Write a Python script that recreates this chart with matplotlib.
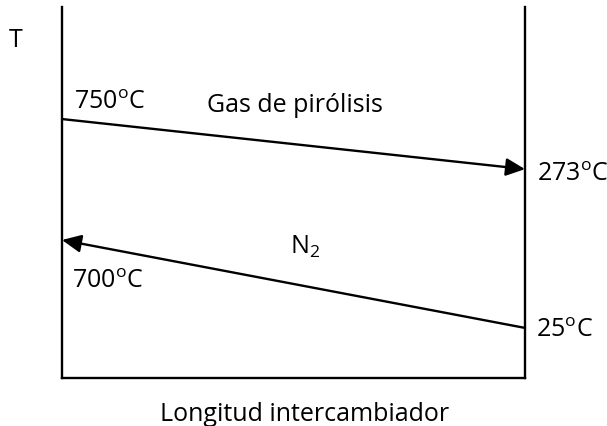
import matplotlib
matplotlib.use("Agg")
import matplotlib.pyplot as plt
from matplotlib.patches import FancyArrowPatch

plt.rcParams['font.family'] = ['Open Sans', 'DejaVu Sans']
plt.rcParams['mathtext.fontset'] = 'custom'
plt.rcParams['mathtext.rm'] = 'Open Sans'
plt.rcParams['mathtext.it'] = 'Open Sans'

# Exchanger length positions (inlet / outlet of the hot side)
x_ends = [0.0, 1.0]
# Schematic temperature levels (fraction of axis height)
gas_levels = [0.698, 0.563]
n2_levels = [0.135, 0.372]
# Stream temperatures, degC
gas_temps = [750, 273]
n2_temps = [25, 700]
stream_names = ["Gas de pirólisis", "N$_2$"]
x_label = "Longitud intercambiador"
y_label = "T"

W, H = 607, 427
fig = plt.figure(figsize=(W / 100, H / 100), dpi=100)
ax = fig.add_axes([62 / W, (H - 379) / H, 463 / W, 371 / H])
ax.set_xlim(0, 1)
ax.set_ylim(0, 1)
ax.set_xticks([])
ax.set_yticks([])
for side in ("left", "bottom", "right"):
    ax.spines[side].set_linewidth(1.7)
    ax.spines[side].set_color("black")
ax.spines["top"].set_visible(False)


def deg(t):
    return f"{t}$^{{\\rm o}}$C"


def px(x, y):
    """Figure-fraction position from pixel coordinates (origin top-left)."""
    return x / W, 1 - y / H


arrow_style = '-|>,head_length=0.58,head_width=0.27'

# Hot stream: left to right
ax.add_patch(FancyArrowPatch((x_ends[0], gas_levels[0]), (x_ends[1], gas_levels[1]),
                             arrowstyle=arrow_style, mutation_scale=20, lw=1.7,
                             color='black', shrinkA=0, shrinkB=0, clip_on=False))
# Cold stream: right to left
ax.add_patch(FancyArrowPatch((x_ends[1], n2_levels[0]), (x_ends[0], n2_levels[1]),
                             arrowstyle=arrow_style, mutation_scale=20, lw=1.7,
                             color='black', shrinkA=0, shrinkB=0, clip_on=False))

fs = 18
labels = [
    (deg(gas_temps[0]), 74, 109),
    (deg(gas_temps[1]), 537, 181),
    (deg(n2_temps[1]), 72, 288),
    (deg(n2_temps[0]), 536, 337),
]
for s, x, y in labels:
    fig.text(*px(x, y), s, fontsize=fs, ha='left', va='baseline')

fig.text(*px(295, 112), stream_names[0], fontsize=fs, ha='center', va='baseline')
fig.text(*px(305, 254), stream_names[1], fontsize=fs, ha='center', va='baseline')
fig.text(*px(16, 47), y_label, fontsize=fs, ha='center', va='baseline')
fig.text(*px(305, 421), x_label, fontsize=fs, ha='center', va='baseline')

fig.savefig("out.png", dpi=100)
